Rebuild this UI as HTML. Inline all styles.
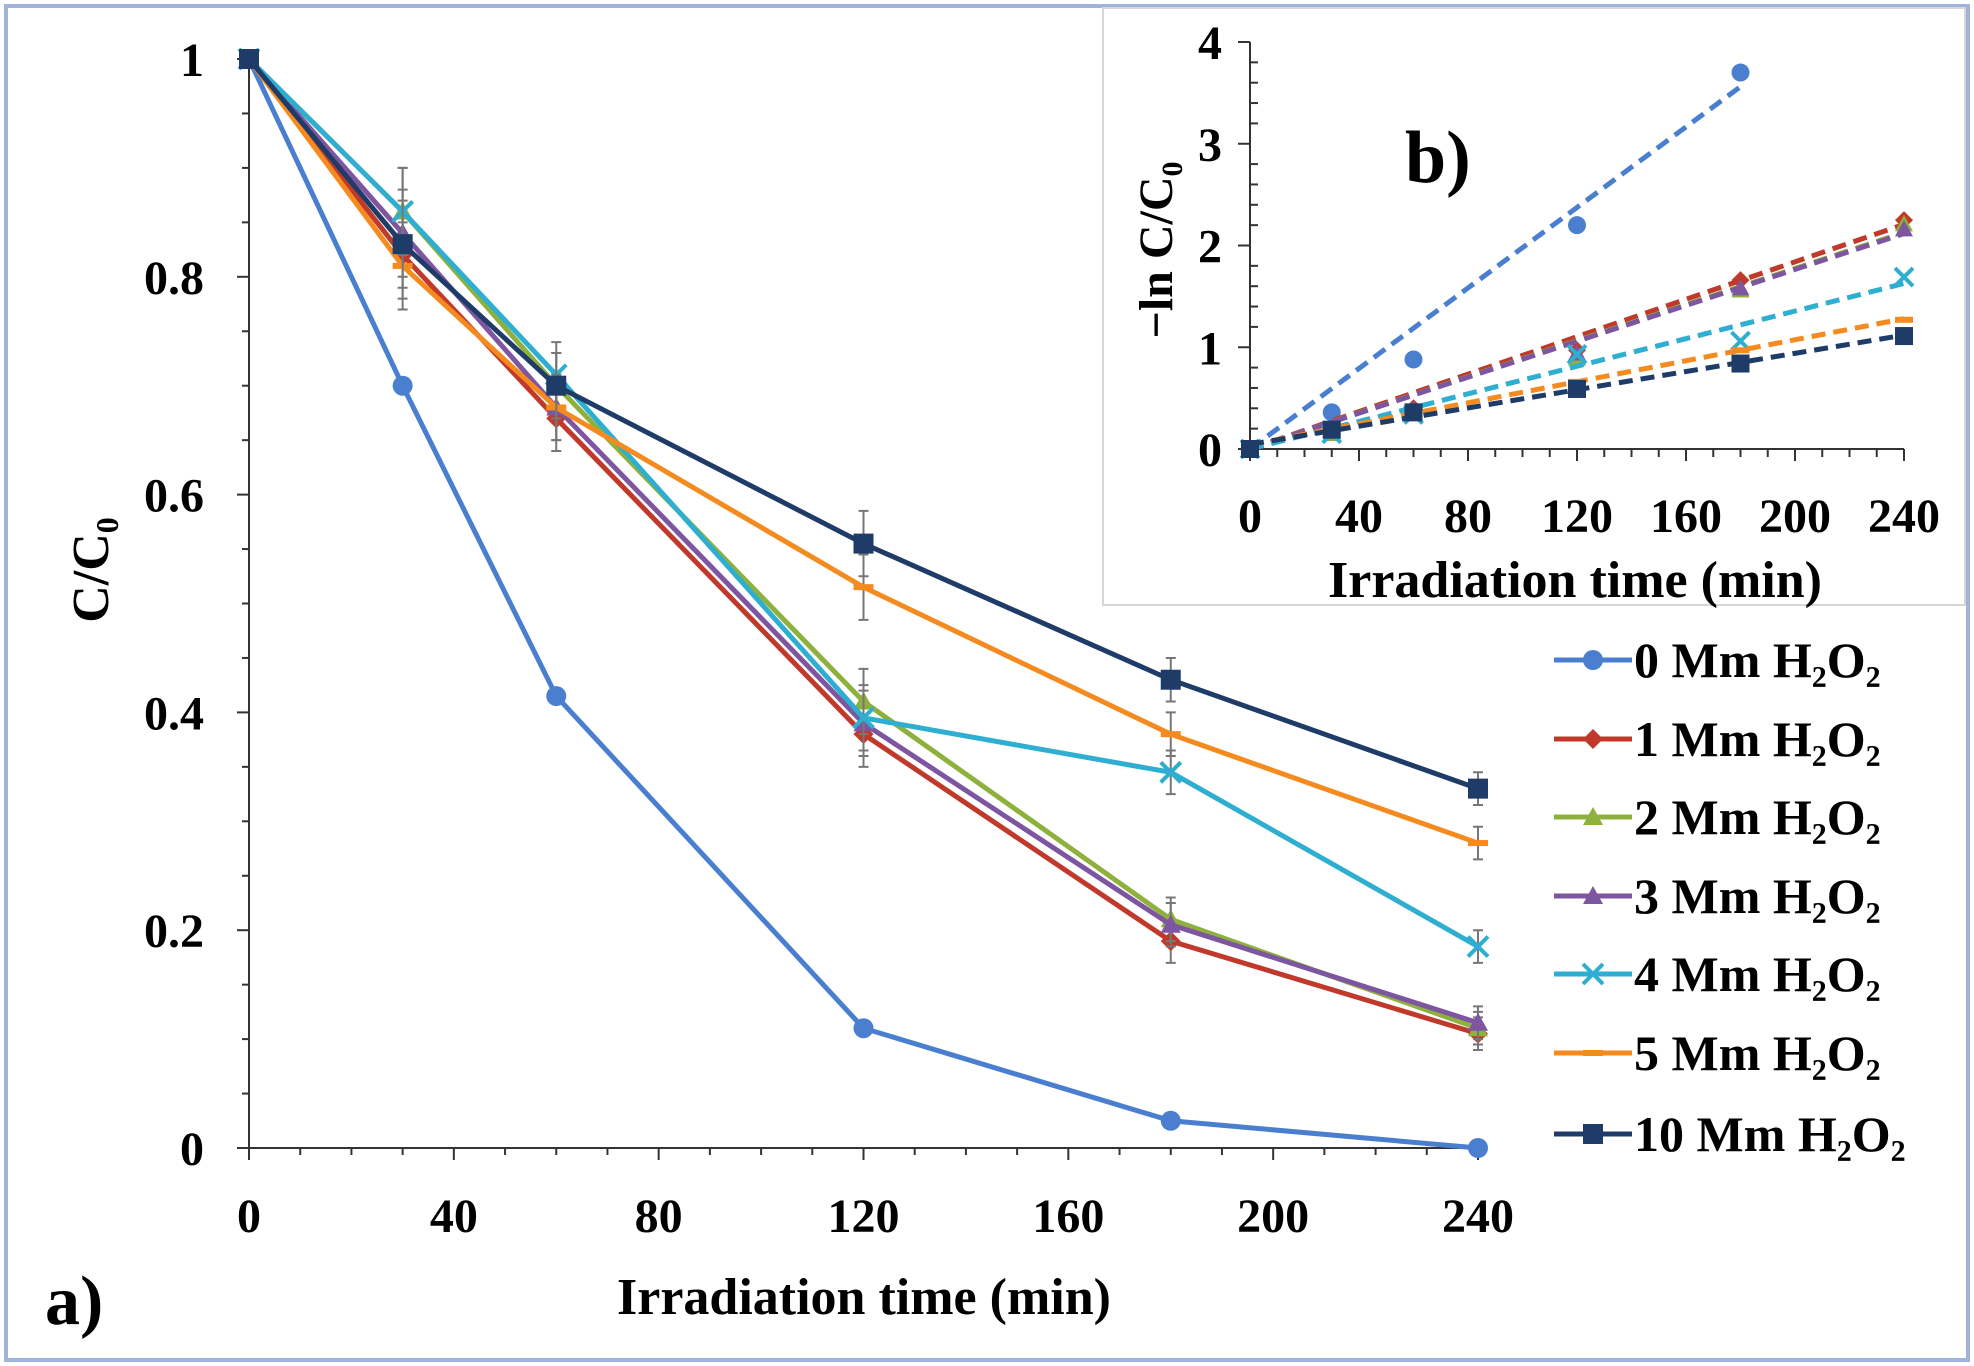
<!DOCTYPE html>
<html><head><meta charset="utf-8"><style>
html,body{margin:0;padding:0;background:#fff}
svg{display:block;font-family:"Liberation Serif",serif;font-weight:bold}
</style></head><body>
<svg id="chart" width="1974" height="1366" viewBox="0 0 1974 1366">
<rect x="6" y="6" width="1962" height="1354" fill="#fff" stroke="#9fb3db" stroke-width="4"/>
<rect x="1103" y="8" width="862" height="597" fill="#fff" stroke="#d6d6d6" stroke-width="2"/>
<g id="main"></g><g id="inset"></g><g id="legend"></g>
<text x="864" y="1314" font-size="52" text-anchor="middle">Irradiation time (min)</text>
<text x="45" y="1324" font-size="70">a)</text>
<text transform="translate(108,570) rotate(-90)" font-size="52" text-anchor="middle">C/C<tspan font-size="32" dy="10">0</tspan></text>
<text x="1575" y="597" font-size="52" text-anchor="middle">Irradiation time (min)</text>
<text x="1405" y="182" font-size="74">b)</text>
<text transform="translate(1172,250) rotate(-90)" font-size="48" text-anchor="middle">−ln C/C<tspan font-size="30" dy="10">0</tspan></text>
</svg>
<script>
const times=[0,30,60,120,180,240];
const seriesNames=["0 Mm H₂O₂","1 Mm H₂O₂","2 Mm H₂O₂","3 Mm H₂O₂","4 Mm H₂O₂","5 Mm H₂O₂","10 Mm H₂O₂"];
const s0=[1,0.70,0.415,0.11,0.025,0.0];
const s1=[1,0.82,0.67,0.38,0.19,0.105];
const s2=[1,0.86,0.70,0.41,0.21,0.11];
const s3=[1,0.84,0.68,0.39,0.205,0.115];
const s4=[1,0.86,0.71,0.395,0.345,0.185];
const s5=[1,0.81,0.68,0.515,0.38,0.28];
const s10=[1,0.83,0.70,0.555,0.43,0.33];
const errs=[0,0.04,0.03,0.03,0.02,0.015];
const insetTimes0=[0,30,60,120,180];
const inset0=[0,0.36,0.88,2.2,3.7];
const inset1=[0,0.2,0.4,0.97,1.66,2.25];
const inset2=[0,0.15,0.36,0.89,1.56,2.21];
const inset3=[0,0.17,0.39,0.94,1.58,2.16];
const inset4=[0,0.15,0.34,0.93,1.06,1.69];
const inset5=[0,0.21,0.39,0.66,0.97,1.27];
const inset10=[0,0.19,0.36,0.59,0.84,1.11];
const xTicks=[0,40,80,120,160,200,240];
const yTicks=[0,0.2,0.4,0.6,0.8,1];
const yTickLabels=["0","0.2","0.4","0.6","0.8","1"];
const insetYTicks=[0,1,2,3,4];

const colors=["#4a7fd0","#c0392b","#8db13c","#7d55a0","#2eaed0","#f58a1f","#1f3c68"];
const markers=["circle","diamond","triangle","triangle","cross","bar","square"];
const mainData=[s0,s1,s2,s3,s4,s5,s10];
const insetData=[inset0,inset1,inset2,inset3,inset4,inset5,inset10];
const NS="http://www.w3.org/2000/svg";
function mk(tag,attrs,parent){const e=document.createElementNS(NS,tag);for(const k in attrs)e.setAttribute(k,attrs[k]);parent.appendChild(e);return e;}
function marker(g,m,x,y,r,c){
  let e;
  if(m==="circle")e=mk("circle",{cx:x,cy:y,r:r,fill:c},g);
  else if(m==="square")e=mk("rect",{x:x-r,y:y-r,width:2*r,height:2*r,fill:c},g);
  else if(m==="diamond")e=mk("polygon",{points:`${x},${y-r} ${x+r},${y} ${x},${y+r} ${x-r},${y}`,fill:c},g);
  else if(m==="triangle")e=mk("polygon",{points:`${x},${y-r} ${x+r},${y+r*0.8} ${x-r},${y+r*0.8}`,fill:c},g);
  else if(m==="cross")e=mk("path",{d:`M${x-r},${y-r}L${x+r},${y+r}M${x+r},${y-r}L${x-r},${y+r}`,stroke:c,"stroke-width":4},g);
  else e=mk("rect",{x:x-r,y:y-3,width:2*r,height:6,fill:c},g);
  return e;
}
// main
const X=t=>249+t*(1478-249)/240, Y=v=>1148-v*(1148-59);
const gm=document.getElementById("main");
let ax=mk("line",{x1:249,y1:59,x2:249,y2:1148,stroke:"#333","stroke-width":2},gm);


ax=mk("line",{x1:249,y1:1148,x2:1478,y2:1148,stroke:"#333","stroke-width":2},gm);


for(let t=0;t<=240;t+=10)mk("line",{x1:X(t),y1:1148,x2:X(t),y2:1148+(t%40===0?12:7),stroke:"#333","stroke-width":2},gm);
for(let v=0;v<=1.0001;v+=0.05)mk("line",{x1:249,y1:Y(v),x2:249-(Math.abs(v*5-Math.round(v*5))<1e-6?12:7),y2:Y(v),stroke:"#333","stroke-width":2},gm);
xTicks.forEach(t=>{const e=mk("text",{x:X(t),y:1232,"font-size":48,"text-anchor":"middle"},gm);e.textContent=t;

});
yTicks.forEach((v,i)=>{const e=mk("text",{x:204,y:Y(v)+17,"font-size":48,"text-anchor":"end"},gm);e.textContent=yTickLabels[i];

});
mainData.forEach((d,si)=>{
  const g=mk("g",{},gm);
  
  
  if(si>0)d.forEach((v,i)=>{if(i>0){const e=errs[i];mk("path",{d:`M${X(times[i])},${Y(v+e)}V${Y(v-e)}M${X(times[i])-5},${Y(v+e)}h10M${X(times[i])-5},${Y(v-e)}h10`,stroke:"#777","stroke-width":2},g);}});
  mk("polyline",{points:d.map((v,i)=>X(times[i])+","+Y(v)).join(" "),fill:"none",stroke:colors[si],"stroke-width":5},g);
  d.forEach((v,i)=>{const m=marker(g,markers[si],X(times[i]),Y(v),10,colors[si]);
  
  });
});
// inset
const IX=t=>1250+t*(1904-1250)/240, IY=v=>449-v*(449-42)/4;
const gi=document.getElementById("inset");
ax=mk("line",{x1:1250,y1:42,x2:1250,y2:449,stroke:"#333","stroke-width":2},gi);


ax=mk("line",{x1:1250,y1:449,x2:1904,y2:449,stroke:"#333","stroke-width":2},gi);


for(let t=0;t<=240;t+=10)mk("line",{x1:IX(t),y1:449,x2:IX(t),y2:449+(t%40===0?12:8),stroke:"#333","stroke-width":2},gi);
for(let k=0;k<=20;k++)mk("line",{x1:1250,y1:IY(k*0.2),x2:1250+(k%5===0?-12:8),y2:IY(k*0.2),stroke:"#333","stroke-width":2},gi);
xTicks.forEach(t=>{const e=mk("text",{x:IX(t),y:532,"font-size":48,"text-anchor":"middle"},gi);e.textContent=t;

});
insetYTicks.forEach(v=>{const e=mk("text",{x:1222,y:IY(v)+17,"font-size":48,"text-anchor":"end"},gi);e.textContent=v;

});
insetData.forEach((d,si)=>{
  const ts=si===0?insetTimes0:times;
  const g=mk("g",{},gi);
  
  
  const n=d.length;let sx=0,sy=0,sxx=0,sxy=0;
  d.forEach((v,i)=>{sx+=ts[i];sy+=v;sxx+=ts[i]*ts[i];sxy+=ts[i]*v;});
  const b=(n*sxy-sx*sy)/(n*sxx-sx*sx),a=(sy-b*sx)/n;
  const t0=0,t1=ts[n-1];
  const fit=mk("line",{x1:IX(t0),y1:IY(Math.max(0,a+b*t0)),x2:IX(t1),y2:IY(a+b*t1),stroke:colors[si],"stroke-width":5,"stroke-dasharray":"14 8"},g);
  
  
  d.forEach((v,i)=>{const m=marker(g,markers[si],IX(ts[i]),IY(v),9,colors[si]);
  
  });
});
// legend
const gl=document.getElementById("legend");
const ly=[660,739,817,896,974,1053,1134];
seriesNames.forEach((nm,i)=>{
  const g=mk("g",{},gl);
  
  
  mk("line",{x1:1554,y1:ly[i],x2:1632,y2:ly[i],stroke:colors[i],"stroke-width":5},g);
  marker(g,markers[i],1593,ly[i],10,colors[i]);
  const t=mk("text",{x:1634,y:ly[i]+17,"font-size":50},g);t.textContent=nm;
});
</script>
</body></html>
